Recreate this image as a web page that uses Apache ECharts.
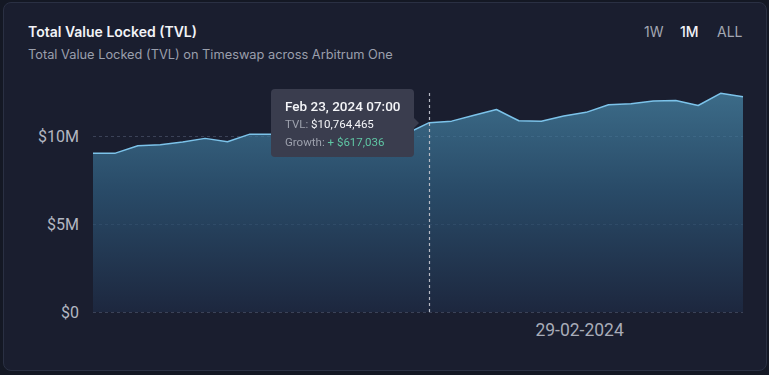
<!DOCTYPE html>
<html>
<head>
<meta charset="utf-8">
<script src="https://cdn.jsdelivr.net/npm/echarts@6/dist/echarts.min.js"></script>
<style>
  html, body { margin: 0; padding: 0; width: 769px; height: 375px; background: #141824; overflow: hidden; }
  #card { position: absolute; left: 3px; top: 2px; width: 762px; height: 367px; background: #1a1e2f; border: 1px solid #2a3043; border-radius: 8px; }
  #chart { position: absolute; left: 0; top: 0; width: 769px; height: 375px; }
</style>
</head>
<body>
<div id="card"></div>
<div id="chart"></div>
<script>
// ---- data ----
const dates = [
  '2024-02-08 07:00','2024-02-09 07:00','2024-02-10 07:00','2024-02-11 07:00','2024-02-12 07:00',
  '2024-02-13 07:00','2024-02-14 07:00','2024-02-15 07:00','2024-02-16 07:00','2024-02-17 07:00',
  '2024-02-18 07:00','2024-02-19 07:00','2024-02-20 07:00','2024-02-21 07:00','2024-02-22 07:00',
  '2024-02-23 07:00','2024-02-24 07:00','2024-02-25 07:00','2024-02-26 07:00','2024-02-27 07:00',
  '2024-02-28 07:00','2024-02-29 07:00','2024-03-01 07:00','2024-03-02 07:00','2024-03-03 07:00',
  '2024-03-04 07:00','2024-03-05 07:00','2024-03-06 07:00','2024-03-07 07:00','2024-03-08 07:00'
];
const tvl = [
  9020000, 9030000, 9450000, 9510000, 9660000,
  9870000, 9680000, 10110000, 10110000, 10140000,
  10200000, 10120000, 10180000, 10100000, 10147429,
  10764465, 10850000, 11190000, 11510000, 10870000,
  10840000, 11140000, 11350000, 11780000, 11840000,
  11990000, 12020000, 11740000, 12430000, 12240000
];
const xTickDates = ['2024-03-01 00:00'];
const xTickLabels = ['29-02-2024'];
const yTicks = [0, 5000000, 10000000];
const yTickLabels = ['$0', '$5M', '$10M'];
const ranges = ['1W', '1M', 'ALL'];
const activeRange = '1M';
const tooltipIndex = 15;

// ---- helpers ----
const toTime = s => new Date(s.replace(' ', 'T')).getTime();
const times = dates.map(toTime);
const tickTimes = xTickDates.map(toTime);
const months = ['Jan','Feb','Mar','Apr','May','Jun','Jul','Aug','Sep','Oct','Nov','Dec'];
function fmtDate(s) {
  const [d, t] = s.split(' ');
  const [y, m, dd] = d.split('-');
  return months[+m - 1] + ' ' + (+dd) + ', ' + y + ' ' + t;
}
const fmtUsd = v => '$' + Math.round(v).toLocaleString('en-US');

const chart = echarts.init(document.getElementById('chart'), null, { renderer: 'svg' });
const FONT = 'Inter, "Noto Sans", sans-serif';
const TFONT = "Roboto, 'Noto Sans', sans-serif";

const rangeGraphics = [];
const rangeX = [644, 680, 717];
ranges.forEach((r, i) => {
  rangeGraphics.push({
    type: 'text', left: rangeX[i], top: 24,
    style: { text: r, fill: r === activeRange ? '#f2f3f7' : '#a3a7b3', font: (r === activeRange ? '500 ' : '400 ') + '14px ' + FONT }
  });
});

chart.setOption({
  animation: false,
  backgroundColor: 'transparent',
  title: {
    text: 'Total Value Locked (TVL)',
    subtext: 'Total Value Locked (TVL) on Timeswap across Arbitrum One',
    left: 23, top: 19,
    itemGap: 10,
    textStyle: { color: '#f2f3f7', fontSize: 14, fontWeight: 600, fontFamily: FONT },
    subtextStyle: { color: '#9a9fac', fontSize: 12.8, fontFamily: FONT }
  },
  graphic: rangeGraphics,
  grid: { left: 93, right: 26, top: 93, bottom: 63 },
  tooltip: {
    trigger: 'axis',
    transitionDuration: 0,
    showDelay: 0,
    backgroundColor: 'transparent',
    borderWidth: 0,
    padding: 0,
    extraCssText: 'box-shadow:none;overflow:visible;',
    axisPointer: {
      type: 'line',
      label: { show: false },
      lineStyle: { color: '#b7bac4', type: [3, 3], width: 1.2 }
    },
    position: function (point, params, dom, rect, size) {
      const idx = params[0].dataIndex;
      const p = chart.convertToPixel({ seriesIndex: 0 }, [times[idx], tvl[idx]]);
      return [p[0] - size.contentSize[0] - 10, p[1] - size.contentSize[1] / 2];
    },
    formatter: function (params) {
      const idx = params[0].dataIndex;
      const growth = idx > 0 ? tvl[idx] - tvl[idx - 1] : 0;
      const sign = growth >= 0 ? '+ ' : '- ';
      return '<div style="display:flex;align-items:center;">' +
        '<div style="background:#3a3d4e;border-radius:4px;padding:8px 13px 6px 14px;font-family:' + TFONT + ';">' +
        '<div style="font-size:13.5px;font-weight:500;color:#f4f5f8;line-height:18px;">' + fmtDate(dates[idx]) + '</div>' +
        '<div style="font-size:11.5px;color:#9da1ad;line-height:18px;">TVL: <span style="color:#f4f5f8;">' + fmtUsd(tvl[idx]) + '</span></div>' +
        '<div style="font-size:11.5px;color:#9da1ad;line-height:18px;">Growth: <span style="color:#5fc6a4;">' + sign + fmtUsd(Math.abs(growth)) + '</span></div>' +
        '</div>' +
        '<div style="width:0;height:0;border-top:5px solid transparent;border-bottom:5px solid transparent;border-left:5px solid #3a3d4e;"></div>' +
        '</div>';
    }
  },
  xAxis: {
    type: 'value',
    min: times[0],
    max: times[times.length - 1],
    interval: tickTimes[0] - times[0],
    axisLine: { show: false },
    axisTick: { show: false },
    splitLine: { show: false },
    axisLabel: {
      margin: 9,
      color: '#a8acb8',
      fontSize: 17.5,
      fontFamily: TFONT,
      formatter: function (v) {
        for (let i = 0; i < tickTimes.length; i++) {
          if (Math.abs(v - tickTimes[i]) < 1000) return xTickLabels[i];
        }
        return '';
      }
    }
  },
  yAxis: {
    type: 'value',
    min: 0,
    max: 12450000,
    interval: 5000000,
    axisLine: { show: false },
    axisTick: { show: false },
    splitLine: { show: true, showMaxLine: false, lineStyle: { color: '#3b4257', type: [3, 3], width: 1 } },
    axisLabel: {
      margin: 14,
      color: '#b3b7c2',
      fontSize: 16,
      fontFamily: TFONT,
      formatter: function (v) {
        const i = yTicks.indexOf(v);
        return i >= 0 ? yTickLabels[i] : '';
      }
    }
  },
  series: [{
    type: 'line',
    data: times.map((t, i) => [t, tvl[i]]),
    symbol: 'none',
    clip: false,
    lineStyle: { color: '#7cc3ea', width: 1.5 },
    areaStyle: {
      color: {
        type: 'linear', x: 0, y: 0, x2: 0, y2: 1,
        colorStops: [
          { offset: 0, color: '#4a8cae' },
          { offset: 0.45, color: '#2f5d7f' },
          { offset: 1, color: '#1e2b45' }
        ]
      }
    },
    emphasis: { disabled: true }
  }]
});

const pt = chart.convertToPixel({ seriesIndex: 0 }, [times[tooltipIndex], tvl[tooltipIndex]]);
chart.dispatchAction({ type: 'showTip', x: pt[0], y: pt[1] });
</script>
</body>
</html>
